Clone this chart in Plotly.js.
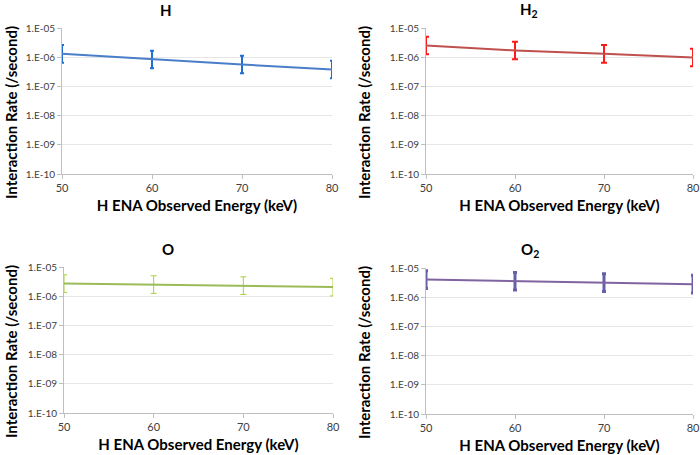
<!DOCTYPE html>
<html>
<head>
<meta charset="utf-8">
<script src="https://cdn.plot.ly/plotly-3.0.1.min.js"></script>
<style>html,body{margin:0;padding:0;background:#fff;}#chart{width:700px;height:455px;}</style>
</head>
<body>
<div id="chart"></div>
<script>
const energies = [50, 60, 70, 80];
const rateH  = [1.3e-6, 8.3e-7, 5.6e-7, 3.8e-7];
const rateH2 = [2.5e-6, 1.7e-6, 1.3e-6, 9.8e-7];
const rateO  = [2.7e-6, 2.5e-6, 2.3e-6, 2.05e-6];
const rateO2 = [4.0e-6, 3.5e-6, 3.15e-6, 2.8e-6];
const errPlusPct = 100;
const errMinusPct = 50;
const panelTitles = ['<b>H</b>', '<b>H<sub>2</sub></b>', '<b>O</b>', '<b>O<sub>2</sub></b>'];
const yTickVals = [1e-10, 1e-9, 1e-8, 1e-7, 1e-6, 1e-5];
const yTickText = ['1.E-10', '1.E-09', '1.E-08', '1.E-07', '1.E-06', '1.E-05'];
const xTickVals = [50, 60, 70, 80];
const xTitle = 'H ENA Observed Energy (keV)';
const yTitle = 'Interaction Rate (/second)';

const W = 700, H = 455;
const panels = [
  {rates: rateH,  line: '#4A7EC8', err: '#1F6FD3', ethick: 2, ewidth: 2, x0: 62, x1: 332, y0: 28, y1: 174, cx: 166, tx: 11},
  {rates: rateH2, line: '#C0504D', err: '#FF1A1A', ethick: 2, ewidth: 3, x0: 426, x1: 693, y0: 28, y1: 174, cx: 529, tx: 364},
  {rates: rateO,  line: '#9BBB59', err: '#A8D040', ethick: 1, ewidth: 3, x0: 64, x1: 333, y0: 267, y1: 413, cx: 168, tx: 11},
  {rates: rateO2, line: '#8064A2', err: '#6560A8', ethick: 3, ewidth: 2, x0: 426, x1: 693, y0: 268, y1: 414, cx: 530, tx: 364}
];

const font = 'Lato, "Open Sans", sans-serif';
const data = [];
const layout = {
  width: W, height: H,
  margin: {l: 0, r: 0, t: 0, b: 0},
  paper_bgcolor: '#fff', plot_bgcolor: '#fff',
  showlegend: false,
  font: {family: font, color: '#404040', size: 10},
  annotations: []
};

panels.forEach((p, i) => {
  const n = i === 0 ? '' : String(i + 1);
  data.push({
    x: energies, y: p.rates,
    xaxis: 'x' + n, yaxis: 'y' + n,
    type: 'scatter', mode: 'lines',
    line: {color: p.line, width: 2},
    error_y: {type: 'percent', symmetric: false, value: errPlusPct, valueminus: errMinusPct,
              color: p.err, thickness: p.ethick, width: p.ewidth},
    hoverinfo: 'x+y'
  });
  layout['xaxis' + n] = {
    domain: [p.x0 / W, p.x1 / W], anchor: 'y' + n,
    range: [50, 80], tickvals: xTickVals, ticktext: xTickVals.map(String),
    showgrid: false, zeroline: false, showline: true, linecolor: '#BFBFBF', linewidth: 1,
    ticks: 'outside', ticklen: 4, tickcolor: '#BFBFBF',
    tickfont: {family: font, size: 11, color: '#404040'},
    title: {text: xTitle, font: {family: font, size: 15, color: '#000', weight: 'bold'}, standoff: 7}
  };
  layout['yaxis' + n] = {
    domain: [1 - p.y1 / H, 1 - p.y0 / H], anchor: 'x' + n,
    type: 'log', range: [-10, -5],
    tickvals: yTickVals, ticktext: yTickText,
    showgrid: true, gridcolor: '#E6E6E6', gridwidth: 1,
    zeroline: false, showline: true, linecolor: '#BFBFBF', linewidth: 1,
    ticks: 'outside', ticklen: 4, tickcolor: '#BFBFBF',
    tickfont: {family: font, size: 10, color: '#404040'}
  };
  layout.annotations.push({
    text: panelTitles[i], xref: 'paper', yref: 'paper',
    x: p.cx / W, y: 1 - (p.y0 - 18) / H, xanchor: 'center', yanchor: 'middle',
    showarrow: false, font: {family: font, size: 15, color: '#000'}
  });
  layout.annotations.push({
    text: '<b>' + yTitle + '</b>', xref: 'paper', yref: 'paper', textangle: -90,
    x: p.tx / W, y: 1 - ((p.y0 + p.y1) / 2 + 12) / H, xanchor: 'center', yanchor: 'middle',
    showarrow: false, font: {family: font, size: 15, color: '#000'}
  });
});

Plotly.newPlot('chart', data, layout, {displayModeBar: false, staticPlot: true});
</script>
</body>
</html>
